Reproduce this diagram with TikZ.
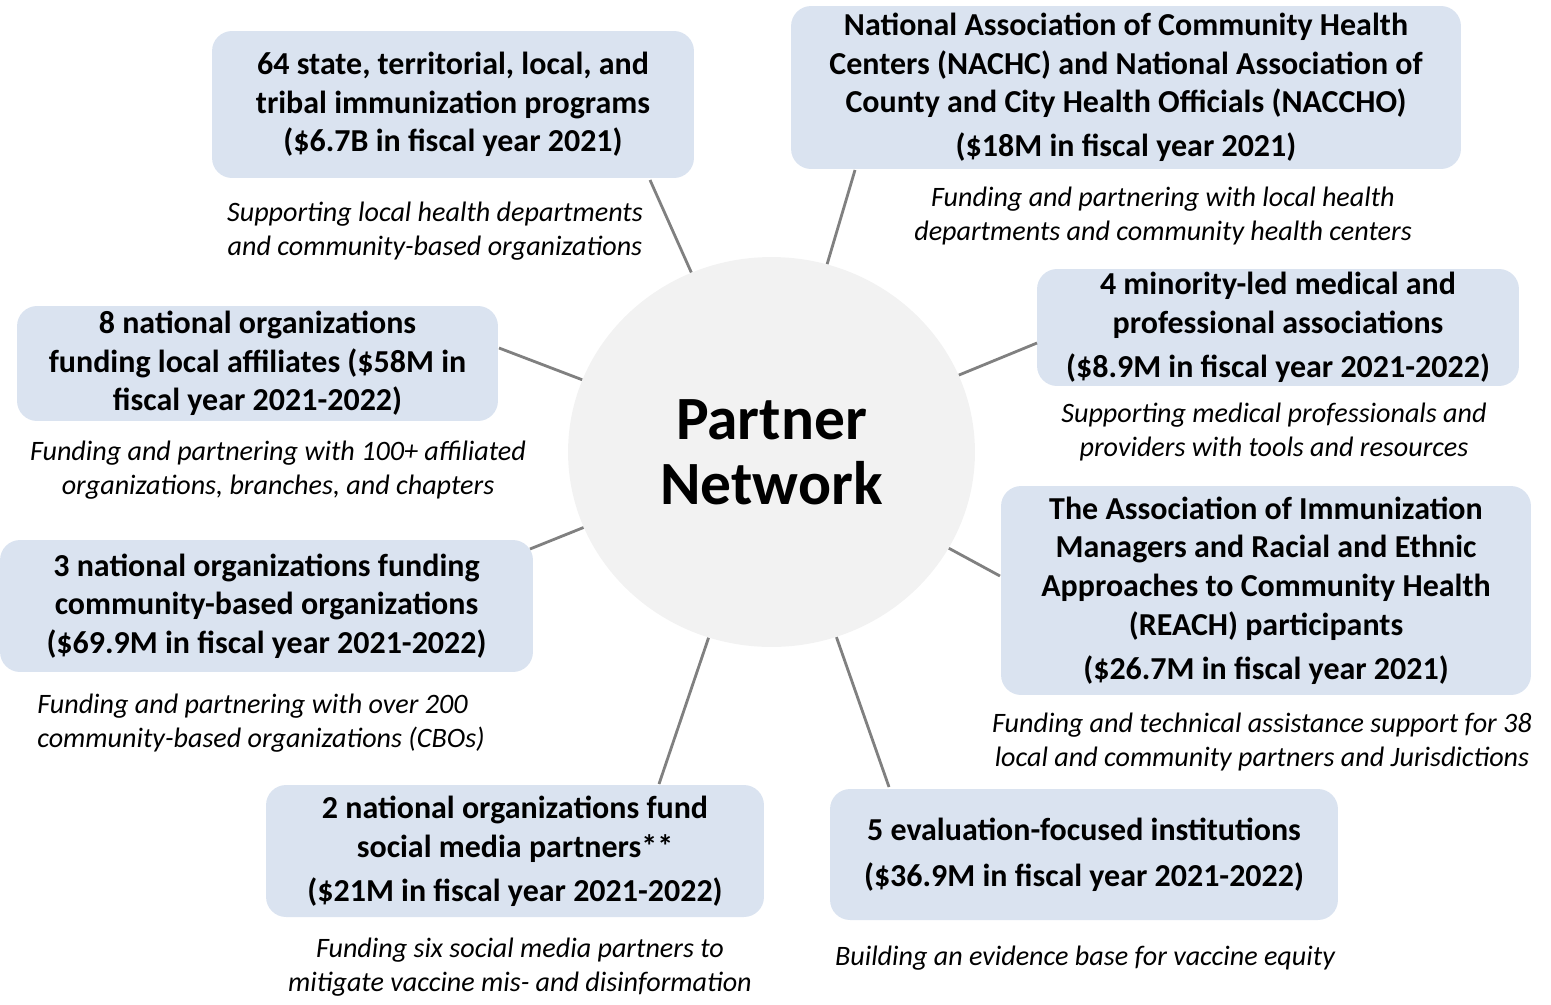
\documentclass[tikz,border=0pt]{standalone}
\usepackage{fontspec}
\setmainfont{Carlito}
\usepackage{xcolor}
\usepackage{tikz}
\usetikzlibrary{shapes.geometric}
\definecolor{boxblue}{HTML}{DAE3F0}
\definecolor{hubgray}{HTML}{F2F2F2}
\definecolor{linegray}{HTML}{808080}

\begin{document}
\begin{tikzpicture}[x=0.02cm,y=-0.02cm,
    partner/.style={shape=rectangle,rounded corners=0.4cm,fill=boxblue,align=center,inner sep=0pt,font=\bfseries\fontsize{18.2}{22}\selectfont},
    remark/.style={align=center,inner sep=0pt,font=\itshape\fontsize{16}{19.4}\selectfont},
    link/.style={draw=linegray,line width=1.6pt}]
      \useasboundingbox (0,0) rectangle (1551,1004);
      \node[shape=ellipse,fill=hubgray,minimum width=8.14cm,minimum height=7.8cm,inner sep=0pt,align=center,font=\bfseries\fontsize{35}{37}\selectfont] (hub) at (771.5,452) {Partner\\Network};
      % partner boxes
      \node[partner,minimum width=9.64cm,minimum height=2.94cm] (state) at (453,104.5) {64 state, territorial, local, and\\tribal immunization programs\\(\$6.7B in fiscal year 2021)};
      \node[partner,minimum width=13.4cm,minimum height=3.26cm] (nachc) at (1126,87.5) {National Association of Community Health\\Centers (NACHC) and National Association of\\County and City Health Officials (NACCHO)\\[3pt](\$18M in fiscal year 2021)};
      \node[partner,minimum width=9.64cm,minimum height=2.34cm] (minority) at (1278,327.5) {4 minority-led medical and\\professional associations\\[3pt](\$8.9M in fiscal year 2021-2022)};
      \node[partner,minimum width=10.6cm,minimum height=4.18cm] (reach) at (1266,590.5) {The Association of Immunization\\Managers and Racial and Ethnic\\Approaches to Community Health\\(REACH) participants\\[3pt](\$26.7M in fiscal year 2021)};
      \node[partner,minimum width=10.16cm,minimum height=2.62cm] (eval) at (1084,854.5) {5 evaluation-focused institutions\\[4pt](\$36.9M in fiscal year 2021-2022)};
      \node[partner,minimum width=9.96cm,minimum height=2.64cm] (social) at (515,851) {2 national organizations fund\\social media partners**\\[3pt](\$21M in fiscal year 2021-2022)};
      \node[partner,minimum width=10.66cm,minimum height=2.64cm] (cbo) at (266.5,606) {3 national organizations funding\\community-based organizations\\(\$69.9M in fiscal year 2021-2022)};
      \node[partner,minimum width=9.62cm,minimum height=2.3cm] (affil) at (257.5,363.5) {8 national organizations\\funding local affiliates (\$58M in\\fiscal year 2021-2022)};
      % remarks under the boxes
      \node[remark] (stateR) at (435,231) {Supporting local health departments\\and community-based organizations};
      \node[remark] (nachcR) at (1163,216) {Funding and partnering with local health\\departments and community health centers};
      \node[remark] (minorityR) at (1274,432) {Supporting medical professionals and\\providers with tools and resources};
      \node[remark] (reachR) at (1262,742) {Funding and technical assistance support for 38\\local and community partners and Jurisdictions};
      \node[remark] (evalR) at (1085,958) {Building an evidence base for vaccine equity};
      \node[remark] (socialR) at (520,967) {Funding six social media partners to\\mitigate vaccine mis- and disinformation};
      \node[remark,align=left,anchor=west] (cboR) at (37,723) {Funding and partnering with over 200\\community-based organizations (CBOs)};
      \node[remark] (affilR) at (278,470.5) {Funding and partnering with 100+ affiliated\\organizations, branches, and chapters};
      % spokes
      \coordinate (stateC) at (650,180);
      \coordinate (nachcC) at (855,170);
      \coordinate (minorityC) at (1037,343);
      \coordinate (reachC) at (1000,576);
      \coordinate (evalC) at (889,787);
      \coordinate (socialC) at (659,784);
      \coordinate (cboC) at (530,549);
      \coordinate (affilC) at (499,348);
      \foreach \p in {stateC,nachcC,minorityC,reachC,evalC,socialC,cboC,affilC}
        \draw[link] (\p) -- (hub);
\end{tikzpicture}
\end{document}
